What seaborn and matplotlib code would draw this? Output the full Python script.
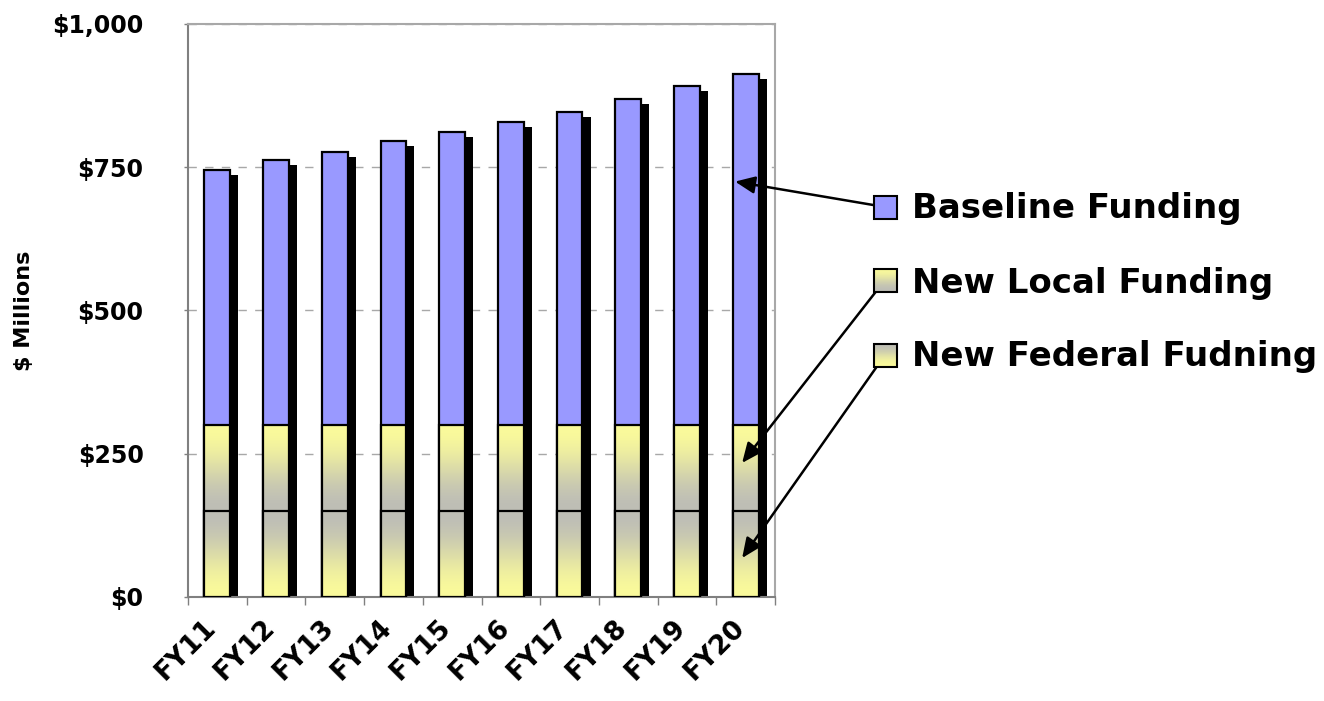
import numpy as np
import pandas as pd
import matplotlib
matplotlib.use("Agg")
import matplotlib.pyplot as plt
import matplotlib.patheffects as pe
import matplotlib.transforms as mtransforms
from matplotlib.patches import Rectangle
from matplotlib.ticker import FixedLocator
import seaborn as sns

# ---- data ($ millions) ----
years = ["FY11", "FY12", "FY13", "FY14", "FY15", "FY16", "FY17", "FY18", "FY19", "FY20"]
federal = [150, 150, 150, 150, 150, 150, 150, 150, 150, 150]
local = [150, 150, 150, 150, 150, 150, 150, 150, 150, 150]
baseline = [445, 463, 477, 495, 512, 529, 547, 569, 591, 613]
series_names = ["Baseline Funding", "New Local Funding", "New Federal Fudning"]
ytick_values = [0, 250, 500, 750, 1000]
ytick_labels = ["$0", "$250", "$500", "$750", "$1,000"]

df = pd.DataFrame({"year": years, "federal": federal, "local": local, "baseline": baseline})
df["lower2"] = df["federal"] + df["local"]
df["total"] = df["lower2"] + df["baseline"]

sns.set_style("white")
plt.rcParams["font.family"] = ["DejaVu Sans"]
plt.rcParams["font.weight"] = "bold"
for key in ("text.color", "axes.labelcolor", "xtick.labelcolor", "ytick.labelcolor"):
    plt.rcParams[key] = "black"

W, H = 1324, 701
fig = plt.figure(figsize=(W / 100, H / 100), dpi=100)
ax = fig.add_axes([188 / W, 1 - 597 / H, (775 - 188) / W, (597 - 24) / H])

PURPLE = "#9999FF"
YELLOW = np.array([250, 250, 155]) / 255
GRAY = np.array([190, 190, 182]) / 255

bar_w = 0.44
shadow = [pe.SimplePatchShadow(offset=(5.8, -3.6), shadow_rgbFace="black", alpha=1.0), pe.Normal()]

# stacked columns drawn as overlapping cumulative bars
sns.barplot(data=df, x="year", y="total", color=PURPLE, width=bar_w, saturation=1,
            edgecolor="black", linewidth=1.6, ax=ax, zorder=2)
n0 = len(ax.patches)
sns.barplot(data=df, x="year", y="lower2", color=PURPLE, width=bar_w, saturation=1,
            edgecolor="black", linewidth=1.6, ax=ax, zorder=4)
n1 = len(ax.patches)
sns.barplot(data=df, x="year", y="federal", color=PURPLE, width=bar_w, saturation=1,
            edgecolor="black", linewidth=1.6, ax=ax, zorder=5)

patches = list(ax.patches)
for p in patches[:n0]:
    p.set_path_effects(shadow)


def gradient(top_col, bottom_col, n=64):
    t = np.linspace(0, 1, n)[:, None]
    # smooth blend, strongest colour change toward the middle
    s = 0.5 - 0.5 * np.cos(np.pi * t)
    rgb = top_col[None, :] * (1 - s) + bottom_col[None, :] * s
    return rgb[:, None, :]


grad_local = gradient(YELLOW, GRAY)
grad_fed = gradient(GRAY, YELLOW)

# local segment spans 150-300, federal 0-150: fill each with a vertical gradient
for p, seg_bottom, img in (
    [(p, 150.0, grad_local) for p in patches[n0:n1]]
    + [(p, 0.0, grad_fed) for p in patches[n1:]]
):
    x0 = p.get_x()
    x1 = x0 + p.get_width()
    y1 = p.get_y() + p.get_height()
    ax.imshow(img, extent=(x0, x1, seg_bottom, y1), aspect="auto", origin="upper",
              interpolation="bilinear", zorder=p.get_zorder() + 0.1)
    p.set_facecolor("none")
    p.set_zorder(p.get_zorder() + 0.2)

ax.set_xlim(-0.5, len(years) - 0.5)
ax.set_ylim(0, 1000)

# axes styling
ax.set_xlabel("")
ax.set_ylabel("$ Millions", fontsize=16, fontweight="bold")
ax.yaxis.set_label_coords(-(188 - 34) / (775 - 188), 0.5)
ax.set_yticks(ytick_values)
ax.set_yticklabels(ytick_labels, fontsize=17, fontweight="bold")
ax.tick_params(axis="y", which="major", direction="out", length=3, width=1, color="#808080",
               pad=29, left=True)
ax.yaxis.grid(True, linestyle=(0, (6, 6)), color="#A8A8A8", linewidth=1)
ax.set_axisbelow(True)

ax.set_xticks(range(len(years)))
ax.set_xticklabels(years, fontsize=19, fontweight="bold", rotation=45, ha="right",
                   rotation_mode="anchor", va="center")
ax.tick_params(axis="x", which="major", length=0, pad=19)
shift = mtransforms.ScaledTranslation(-5 / 100, 0, fig.dpi_scale_trans)
for lbl in ax.get_xticklabels():
    lbl.set_transform(lbl.get_transform() + shift)
ax.xaxis.set_minor_locator(FixedLocator(np.arange(-0.5, len(years), 1.0)))
ax.tick_params(axis="x", which="minor", direction="out", length=6, width=1, color="#808080", bottom=True)

for side, col in (("left", "#808080"), ("bottom", "#808080"), ("right", "#A8A8A8"), ("top", "#A8A8A8")):
    ax.spines[side].set_visible(True)
    ax.spines[side].set_color(col)
    ax.spines[side].set_linewidth(1.5)

# overlay in pixel coordinates for the legend and callout arrows
ov = fig.add_axes([0, 0, 1, 1], zorder=10)
ov.set_xlim(0, W)
ov.set_ylim(H, 0)
ov.axis("off")
ov.patch.set_alpha(0)

legend_rows = [
    (series_names[0], 207, 218, None),
    (series_names[1], 280, 293, grad_local),
    (series_names[2], 355, 366, grad_fed),
]
arrow_targets = [(8.82, 725), (8.94, 234), (8.94, 68)]

for (label, cy, base, img), (tx, ty) in zip(legend_rows, arrow_targets):
    ov.annotate("", xy=(tx, ty), xycoords=ax.transData, xytext=(885, cy), textcoords="data",
                arrowprops=dict(arrowstyle="-|>,head_length=0.8,head_width=0.35",
                                color="black", lw=1.8, mutation_scale=15,
                                shrinkA=0, shrinkB=0),
                annotation_clip=False, zorder=1)
    x0, x1 = 874, 897
    y0, y1 = cy - 11.5, cy + 11.5
    if img is None:
        ov.add_patch(Rectangle((x0, y0), x1 - x0, y1 - y0, facecolor=PURPLE,
                               edgecolor="black", lw=1.5, zorder=3))
    else:
        ov.imshow(img, extent=(x0, x1, y1, y0), aspect="auto", origin="upper",
                  interpolation="bilinear", zorder=2)
        ov.add_patch(Rectangle((x0, y0), x1 - x0, y1 - y0, facecolor="none",
                               edgecolor="black", lw=1.5, zorder=3))
    ov.text(912, base, label, fontsize=24.5, fontweight="bold", ha="left", va="baseline", zorder=4)

ov.set_xlim(0, W)
ov.set_ylim(H, 0)

fig.savefig("out.png", dpi=100)
